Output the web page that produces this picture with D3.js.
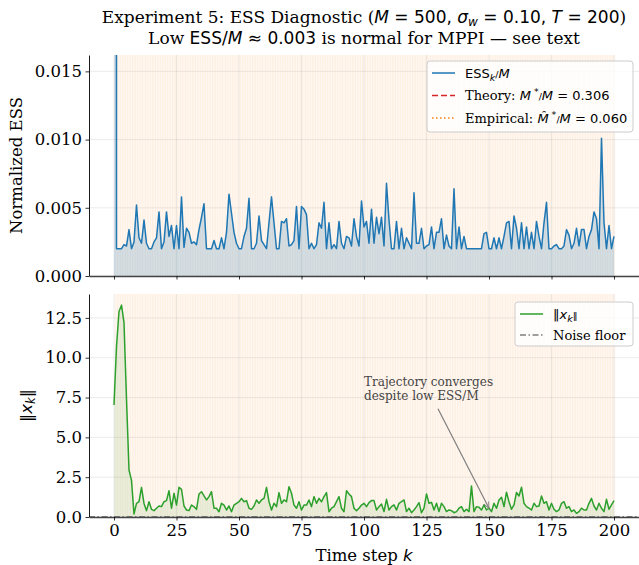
<!DOCTYPE html>
<html>
<head>
<meta charset="utf-8">
<script src="https://cdn.jsdelivr.net/npm/d3@7/dist/d3.min.js"></script>
<style>
  body { margin: 0; background: #fff; }
  text { font-family: "DejaVu Serif", serif; fill: #000; }
  .m { font-family: "DejaVu Sans", sans-serif; }
</style>
</head>
<body>
<svg id="chart" width="639" height="565"></svg>
<script>
// time steps k = 0..200
const steps = d3.range(0, 201);

// ESS_k / M  (k = 0 is off the top of the axis)
const essRatio = [
  1.0,
  0.0020, 0.0020, 0.0020, 0.0023, 0.0022, 0.0034, 0.0020, 0.0025, 0.0052, 0.0028,
  0.0024, 0.0041, 0.0024, 0.0020, 0.0020, 0.0025, 0.0028, 0.0047, 0.0020, 0.0025,
  0.0047, 0.0029, 0.0037, 0.0020, 0.0037, 0.0020, 0.0058, 0.0021, 0.0035, 0.0032,
  0.0024, 0.0025, 0.0023, 0.0034, 0.0043, 0.0053, 0.0020, 0.0020, 0.0020, 0.0026,
  0.0020, 0.0020, 0.0028, 0.0020, 0.0032, 0.0060, 0.0046, 0.0032, 0.0024, 0.0020,
  0.0020, 0.0029, 0.0035, 0.0057, 0.0020, 0.0020, 0.0024, 0.0044, 0.0026, 0.0023,
  0.0020, 0.0039, 0.0058, 0.0039, 0.0020, 0.0020, 0.0040, 0.0039, 0.0042, 0.0022,
  0.0023, 0.0026, 0.0051, 0.0020, 0.0051, 0.0049, 0.0045, 0.0020, 0.0024, 0.0020,
  0.0023, 0.0039, 0.0035, 0.0054, 0.0020, 0.0039, 0.0020, 0.0023, 0.0020, 0.0040,
  0.0024, 0.0020, 0.0029, 0.0028, 0.0022, 0.0042, 0.0029, 0.0022, 0.0055, 0.0036,
  0.0040, 0.0024, 0.0049, 0.0024, 0.0043, 0.0031, 0.0043, 0.0022, 0.0068, 0.0041,
  0.0020, 0.0020, 0.0040, 0.0020, 0.0035, 0.0020, 0.0028, 0.0024, 0.0020, 0.0061,
  0.0024, 0.0024, 0.0035, 0.0020, 0.0022, 0.0023, 0.0036, 0.0020, 0.0032, 0.0032,
  0.0042, 0.0020, 0.0030, 0.0022, 0.0020, 0.0064, 0.0020, 0.0036, 0.0020, 0.0029,
  0.0020, 0.0020, 0.0020, 0.0020, 0.0020, 0.0020, 0.0020, 0.0031, 0.0032, 0.0020,
  0.0020, 0.0028, 0.0020, 0.0028, 0.0020, 0.0029, 0.0039, 0.0040, 0.0020, 0.0044,
  0.0035, 0.0020, 0.0039, 0.0020, 0.0036, 0.0020, 0.0032, 0.0020, 0.0040, 0.0029,
  0.0020, 0.0039, 0.0054, 0.0020, 0.0020, 0.0022, 0.0023, 0.0020, 0.0020, 0.0022,
  0.0034, 0.0030, 0.0020, 0.0024, 0.0035, 0.0022, 0.0034, 0.0034, 0.0020, 0.0029,
  0.0034, 0.0047, 0.0042, 0.0020, 0.0101, 0.0039, 0.0020, 0.0037, 0.0020, 0.0029
];

// ||x_k||
const stateNorm = [
  7.03, 10.7, 12.9, 13.3, 12.2, 7.4, 2.95, 2.3, 0.19, 0.86,
  0.96, 1.86, 0.85, 0.40, 0.96, 0.48, 0.40, 0.55, 0.69, 0.65,
  0.96, 1.03, 1.65, 0.55, 1.49, 0.75, 1.86, 1.74, 0.69, 0.44,
  0.40, 0.75, 0.65, 0.48, 1.44, 1.59, 1.32, 1.07, 1.28, 1.59,
  0.55, 0.55, 0.33, 0.86, 0.75, 0.44, 0.69, 0.33, 0.75, 0.86,
  0.96, 1.17, 0.96, 1.03, 0.55, 0.48, 0.69, 1.07, 0.86, 1.07,
  1.17, 1.86, 0.96, 0.44, 0.86, 0.65, 1.53, 0.86, 1.07, 0.96,
  1.90, 1.49, 0.75, 0.55, 0.96, 0.44, 0.75, 0.75, 1.07, 0.65,
  1.28, 0.86, 1.17, 0.96, 1.28, 1.53, 0.33, 0.55, 0.65, 0.96,
  1.28, 0.55, 0.33, 1.65, 1.44, 1.28, 0.55, 0.40, 0.55, 0.75,
  0.86, 0.65, 0.90, 1.03, 1.03, 0.44, 0.65, 0.82, 0.34, 1.11,
  0.44, 0.65, 0.76, 0.44, 0.86, 0.96, 1.07, 0.34, 0.55, 0.27,
  0.44, 0.65, 0.90, 0.27, 0.55, 1.45, 0.86, 0.92, 0.44, 0.86,
  0.34, 0.86, 0.65, 0.34, 0.44, 0.40, 0.27, 0.34, 0.55, 0.65,
  0.34, 0.49, 0.34, 1.95, 0.34, 0.65, 0.61, 0.44, 0.76, 0.44,
  0.55, 0.34, 0.86, 0.55, 1.07, 1.24, 0.65, 1.56, 0.96, 0.49,
  0.76, 1.54, 1.32, 1.87, 0.86, 0.65, 0.55, 0.44, 0.86, 0.65,
  0.69, 1.32, 0.86, 0.96, 0.44, 0.86, 0.49, 0.34, 0.44, 0.86,
  0.96, 0.55, 0.65, 0.34, 0.44, 0.23, 0.34, 0.55, 0.44, 0.44,
  0.86, 1.17, 0.69, 0.44, 0.86, 0.55, 0.34, 1.11, 0.49, 0.76,
  1.03
];

const theoryRatio = 0.306;
const empiricalRatio = 0.060;
const noiseFloor = 0.03;
// steps flagged as low ESS (shaded)
const lowEssSteps = d3.range(1, 201);

const xTicks = [0, 25, 50, 75, 100, 125, 150, 175, 200];
const essTicks = [0, 0.005, 0.010, 0.015];
const normTicks = [0, 2.5, 5.0, 7.5, 10.0, 12.5];

const blue = "#1f77b4", green = "#2ca02c", red = "#d62728", orange = "#ff7f0e", gray = "#7f7f7f";

const svg = d3.select("#chart");
const left = 89, right = 639;
const top1 = 55, bot1 = 276, top2 = 294, bot2 = 517;

const x = d3.scaleLinear().domain([-10, 210]).range([left, right]);
const yEss = d3.scaleLinear().domain([0, 0.0162]).range([bot1, top1]);
const yNorm = d3.scaleLinear().domain([0, 14.0]).range([bot2, top2]);

// title
const title = svg.append("g").attr("font-size", 17);
const t1 = title.append("text").attr("x", 364).attr("y", 23).attr("text-anchor", "middle");
t1.append("tspan").text("Experiment 5: ESS Diagnostic (");
t1.append("tspan").attr("class", "m").attr("font-style", "italic").text("M");
t1.append("tspan").attr("class", "m").text(" = 500, ");
t1.append("tspan").attr("class", "m").attr("font-style", "italic").text("σ");
t1.append("tspan").attr("class", "m").attr("font-style", "italic").attr("font-size", 12).attr("dy", 3).text("w");
t1.append("tspan").attr("class", "m").attr("dy", -3).text(" = 0.10, ");
t1.append("tspan").attr("class", "m").attr("font-style", "italic").text("T");
t1.append("tspan").attr("class", "m").text(" = 200");
t1.append("tspan").text(")");
const t2 = title.append("text").attr("x", 364).attr("y", 44).attr("text-anchor", "middle");
t2.append("tspan").text("Low ");
t2.append("tspan").attr("class", "m").text("ESS/");
t2.append("tspan").attr("class", "m").attr("font-style", "italic").text("M");
t2.append("tspan").attr("class", "m").text(" ≈ 0.003");
t2.append("tspan").text(" is normal for MPPI — see text");

function panel(y, top, bottom, ticks, fmt, id) {
  const g = svg.append("g");
  g.append("clipPath").attr("id", id).append("rect")
    .attr("x", left).attr("y", top).attr("width", right - left).attr("height", bottom - top);
  const plot = g.append("g").attr("clip-path", `url(#${id})`);

  // low-ESS shading, one span per step
  plot.selectAll("rect.span").data(lowEssSteps).join("rect")
    .attr("x", d => x(d - 0.5)).attr("y", top)
    .attr("width", x(1) - x(0)).attr("height", bottom - top)
    .attr("fill", orange).attr("fill-opacity", 0.06);
  plot.selectAll("line.edge").data(lowEssSteps).join("line")
    .attr("x1", d => x(d - 0.5)).attr("x2", d => x(d - 0.5))
    .attr("y1", top).attr("y2", bottom)
    .attr("stroke", orange).attr("stroke-opacity", 0.1).attr("stroke-width", 0.7);

  // grid
  plot.selectAll("line.gy").data(ticks).join("line")
    .attr("x1", left).attr("x2", right).attr("y1", d => y(d)).attr("y2", d => y(d))
    .attr("stroke", "#b0b0b0").attr("stroke-opacity", 0.3).attr("stroke-width", 0.8);
  plot.selectAll("line.gx").data(xTicks).join("line")
    .attr("y1", top).attr("y2", bottom).attr("x1", d => x(d)).attr("x2", d => x(d))
    .attr("stroke", "#b0b0b0").attr("stroke-opacity", 0.3).attr("stroke-width", 0.8);

  const ya = g.append("g").attr("transform", `translate(${left},0)`)
    .call(d3.axisLeft(y).tickValues(ticks).tickFormat(fmt).tickSize(3.5).tickPadding(3.5).tickSizeOuter(0));
  ya.selectAll("text").attr("font-size", 16.5).attr("font-family", "DejaVu Serif");
  ya.select(".domain").attr("stroke", "#000").attr("stroke-width", 0.9);
  ya.selectAll(".tick line").attr("stroke-width", 0.8);

  const xa = g.append("g").attr("transform", `translate(0,${bottom})`)
    .call(d3.axisBottom(x).tickValues(xTicks).tickSize(3.5).tickPadding(3.5).tickSizeOuter(0));
  xa.selectAll("text").attr("font-size", 16.5).attr("font-family", "DejaVu Serif");
  xa.select(".domain").attr("stroke", "#444").attr("stroke-width", 1.6);
  xa.selectAll(".tick line").attr("stroke-width", 0.8);
  return { g, plot, xa };
}

// ---- top panel
const p1 = panel(yEss, top1, bot1, essTicks, d3.format(".3f"), "clip1");
p1.xa.selectAll("text").remove();
p1.plot.append("path").datum(steps)
  .attr("d", d3.area().x(k => x(k)).y0(yEss(0)).y1(k => yEss(essRatio[k])))
  .attr("fill", blue).attr("fill-opacity", 0.2);
p1.plot.append("path").datum(steps)
  .attr("d", d3.line().x(k => x(k)).y(k => yEss(essRatio[k])))
  .attr("fill", "none").attr("stroke", blue).attr("stroke-width", 1.5).attr("stroke-linejoin", "round");
p1.plot.append("line").attr("x1", left).attr("x2", right)
  .attr("y1", yEss(theoryRatio)).attr("y2", yEss(theoryRatio))
  .attr("stroke", red).attr("stroke-width", 1.5).attr("stroke-dasharray", "6,3");
p1.plot.append("line").attr("x1", left).attr("x2", right)
  .attr("y1", yEss(empiricalRatio)).attr("y2", yEss(empiricalRatio))
  .attr("stroke", orange).attr("stroke-width", 1.5).attr("stroke-dasharray", "1.5,2.5");

svg.append("text").attr("transform", `translate(22,${(top1 + bot1) / 2}) rotate(-90)`)
  .attr("text-anchor", "middle").attr("font-size", 16.5).text("Normalized ESS");

// ---- bottom panel
const p2 = panel(yNorm, top2, bot2, normTicks, d3.format(".1f"), "clip2");
p2.plot.append("path").datum(steps)
  .attr("d", d3.area().x(k => x(k)).y0(yNorm(0)).y1(k => yNorm(stateNorm[k])))
  .attr("fill", green).attr("fill-opacity", 0.1);
p2.plot.append("path").datum(steps)
  .attr("d", d3.line().x(k => x(k)).y(k => yNorm(stateNorm[k])))
  .attr("fill", "none").attr("stroke", green).attr("stroke-width", 1.5).attr("stroke-linejoin", "round");
p2.plot.append("line").attr("x1", left).attr("x2", right)
  .attr("y1", yNorm(noiseFloor)).attr("y2", yNorm(noiseFloor))
  .attr("stroke", gray).attr("stroke-width", 1.2).attr("stroke-dasharray", "6,2.5,1.5,2.5");

const yl = svg.append("text").attr("transform", `translate(32,${(top2 + bot2) / 2}) rotate(-90)`)
  .attr("text-anchor", "middle").attr("font-size", 16.5).attr("class", "m");
yl.append("tspan").text("‖");
yl.append("tspan").attr("font-style", "italic").text("x");
yl.append("tspan").attr("font-style", "italic").attr("font-size", 11.5).attr("dy", 3).text("k");
yl.append("tspan").attr("dy", -3).text("‖");

const xl = svg.append("text").attr("x", 364).attr("y", 561).attr("text-anchor", "middle").attr("font-size", 16.5);
xl.append("tspan").text("Time step ");
xl.append("tspan").attr("class", "m").attr("font-style", "italic").text("k");

// annotation
const annText = [100, 7.35], annTail = [129.6, 6.8], annHead = [150, 0.55];
svg.append("defs").append("marker").attr("id", "arr").attr("viewBox", "0 0 10 10")
  .attr("refX", 9).attr("refY", 5).attr("markerWidth", 7).attr("markerHeight", 7)
  .attr("orient", "auto-start-reverse").attr("markerUnits", "userSpaceOnUse")
  .append("path").attr("d", "M0,1 L9,5 L0,9").attr("fill", "none").attr("stroke", gray).attr("stroke-width", 1.3);
svg.append("line")
  .attr("x1", x(annTail[0])).attr("y1", yNorm(annTail[1]))
  .attr("x2", x(annHead[0])).attr("y2", yNorm(annHead[1]))
  .attr("stroke", gray).attr("stroke-width", 1.2).attr("marker-end", "url(#arr)");
const at = svg.append("text").attr("x", x(annText[0])).attr("y", yNorm(annText[1]))
  .attr("font-size", 12).style("fill", "#444");
at.append("tspan").attr("x", x(annText[0])).attr("dy", -14).text("Trajectory converges");
at.append("tspan").attr("x", x(annText[0])).attr("dy", 14).text("despite low ESS/M");

// ---- legends
function legend(x0, y0, w, h, rows) {
  const g = svg.append("g").attr("transform", `translate(${x0},${y0})`);
  g.append("rect").attr("width", w).attr("height", h).attr("rx", 3)
    .attr("fill", "#fff").attr("fill-opacity", 0.8).attr("stroke", "#ccc").attr("stroke-width", 1);
  rows.forEach((r, i) => {
    const cy = 12 + i * r.gap;
    g.append("line").attr("x1", 5).attr("x2", 28).attr("y1", cy).attr("y2", cy)
      .attr("stroke", r.color).attr("stroke-width", 1.5).attr("stroke-dasharray", r.dash);
    const t = g.append("text").attr("x", 38).attr("y", cy + 4.5).attr("font-size", 13);
    r.parts.forEach(p => {
      const s = t.append("tspan").text(p[0]);
      if (p[1]) s.attr("class", "m");
      if (p[2]) s.attr("font-style", "italic");
      if (p[3]) s.attr("font-size", 9.5).attr("dy", p[3]);
    });
  });
}
legend(427, 61, 206, 71, [
  { color: blue, dash: null, gap: 22.5, parts: [["ESS", 1], ["k", 1, 1, 3], ["/", 1, 0, -3], ["M", 1, 1]] },
  { color: red, dash: "6,3", gap: 22.5, parts: [["Theory: "], ["M", 1, 1], [" *", 1, 0, -5], ["/", 1, 0, 5], ["M", 1, 1], [" = 0.306", 1]] },
  { color: orange, dash: "1.5,2.5", gap: 22.5, parts: [["Empirical: "], ["M\u0302", 1, 1], [" *", 1, 0, -5], ["/", 1, 0, 5], ["M", 1, 1], [" = 0.060", 1]] }
]);
legend(515, 302, 118, 44, [
  { color: green, dash: null, gap: 21, parts: [["‖", 1], ["x", 1, 1], ["k", 1, 1, 3], ["‖", 1, 0, -3]] },
  { color: gray, dash: "6,2.5,1.5,2.5", gap: 21, parts: [["Noise floor"]] }
]);
</script>
</body>
</html>
